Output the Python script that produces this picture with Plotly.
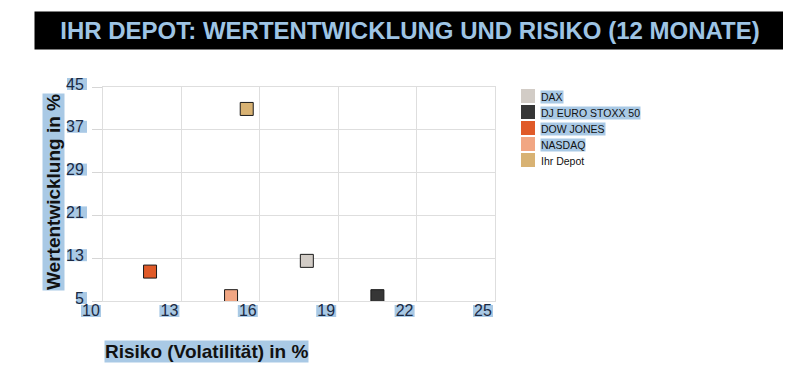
import plotly.graph_objects as go

# ---- data ----
names = ["DAX", "DJ EURO STOXX 50", "DOW JONES", "NASDAQ", "Ihr Depot"]
risk = [17.8, 20.5, 11.8, 14.9, 15.5]          # Risiko (Volatilität) in %
perf = [12.5, 5.9, 10.5, 5.9, 40.9]            # Wertentwicklung in %
colors = ["#d2ccc6", "#363636", "#e05a28", "#f1a683", "#d8b273"]
legend_highlight = [True, True, True, True, False]

x_ticks = [10, 13, 16, 19, 22, 25]
y_ticks = [5, 13, 21, 29, 37, 45]

title_text = "IHR DEPOT: WERTENTWICKLUNG UND RISIKO (12 MONATE)"
x_title = "Risiko (Volatilität) in %"
y_title = "Wertentwicklung in %"

# ---- layout geometry (pixels, in screenshot frame) ----
OFF = 8                      # default page margin of the html body
WIN_W, WIN_H = 791, 376
W, H = WIN_W - OFF, WIN_H - OFF
L, R, T, B = 103, 495, 87, 301
HL = "#a9c9e5"
TXT = "#1b2a44"
FONT = "Liberation Sans, Arial, sans-serif"


def px(xp):
    return (xp - L) / (R - L)


def py(yp):
    return (B - yp) / (B - T)


fig = go.Figure()
for n, xv, yv, c in zip(names, risk, perf, colors):
    fig.add_trace(go.Scatter(
        x=[xv], y=[yv], mode="markers", name=n, showlegend=False,
        marker=dict(symbol="square", size=13, color=c,
                    line=dict(color="#1a1a1a", width=1)),
    ))

shapes = []
annotations = []

# grey strip right of title bar
shapes.append(dict(type="rect", xref="paper", yref="paper",
                   x0=px(784), x1=px(795), y0=py(48), y1=py(13),
                   fillcolor="#d9d5d1", line=dict(width=0), layer="below"))

# title bar
annotations.append(dict(
    text="<b>%s</b>" % title_text, xref="paper", yref="paper",
    x=px(410), y=py(30.5), xanchor="center", yanchor="middle",
    showarrow=False, width=748, height=35, bgcolor="#000000",
    font=dict(family=FONT, size=24, color="#9ec4e4"),
))

# highlights behind tick labels
for v in x_ticks:
    cx = L + (v - 10) / 15 * (R - L) - 12
    shapes.append(dict(type="rect", xref="paper", yref="paper",
                       x0=px(cx - 10), x1=px(cx + 10), y0=py(317), y1=py(305),
                       fillcolor=HL, line=dict(width=0), layer="below"))
for v in y_ticks:
    cy = B - (v - 5) / 40 * (B - T) - 3
    w = 20 if v >= 10 else 11
    shapes.append(dict(type="rect", xref="paper", yref="paper",
                       x0=px(87 - w), x1=px(87), y0=py(cy + 6), y1=py(cy - 6),
                       fillcolor=HL, line=dict(width=0), layer="below"))

# axis titles
annotations.append(dict(
    text="<b>%s</b>" % x_title, xref="paper", yref="paper",
    x=px(104), y=py(351), xanchor="left", yanchor="middle",
    showarrow=False, bgcolor=HL, borderpad=0,
    font=dict(family=FONT, size=19, color="#111111"),
))
annotations.append(dict(
    text="<b>%s</b>" % y_title, xref="paper", yref="paper",
    x=px(53), y=py(192), xanchor="center", yanchor="middle",
    textangle=-90, showarrow=False, bgcolor=HL, borderpad=0,
    font=dict(family=FONT, size=19, color="#111111"),
))

# legend
for i, (n, c, hl) in enumerate(zip(names, colors, legend_highlight)):
    top = 89 + 16 * i
    shapes.append(dict(type="rect", xref="paper", yref="paper",
                       x0=px(521), x1=px(535), y0=py(top + 14), y1=py(top),
                       fillcolor=c, line=dict(width=0)))
    annotations.append(dict(
        text=n, xref="paper", yref="paper",
        x=px(540), y=py(top + 8), xanchor="left", yanchor="middle",
        showarrow=False, bgcolor=HL if hl else "rgba(0,0,0,0)", borderpad=0,
        font=dict(family=FONT, size=10.5, color="#111111"),
    ))

axis_common = dict(
    showgrid=True, gridcolor="#dedede", gridwidth=1,
    showline=True, linecolor="#dedede", mirror=True, zeroline=False,
    tickcolor="#d6d6d6",
    tickfont=dict(family=FONT, size=16, color=TXT),
)

fig.update_layout(
    width=W, height=H,
    margin=dict(l=L - OFF, r=W - (R - OFF), t=T - OFF, b=H - (B - OFF), pad=0),
    paper_bgcolor="white", plot_bgcolor="white",
    showlegend=False,
    shapes=shapes, annotations=annotations,
    xaxis=dict(range=[10, 25], tickvals=x_ticks, ticktext=[str(v) for v in x_ticks],
               ticks="", ticklabelshift=-12, ticklabelstandoff=-5, **axis_common),
    yaxis=dict(range=[5, 45], tickvals=y_ticks, ticktext=[str(v) for v in y_ticks],
               ticks="outside", ticklen=10, ticklabelstandoff=5, ticklabelshift=-3,
               **axis_common),
)

fig.write_html("out.html")
